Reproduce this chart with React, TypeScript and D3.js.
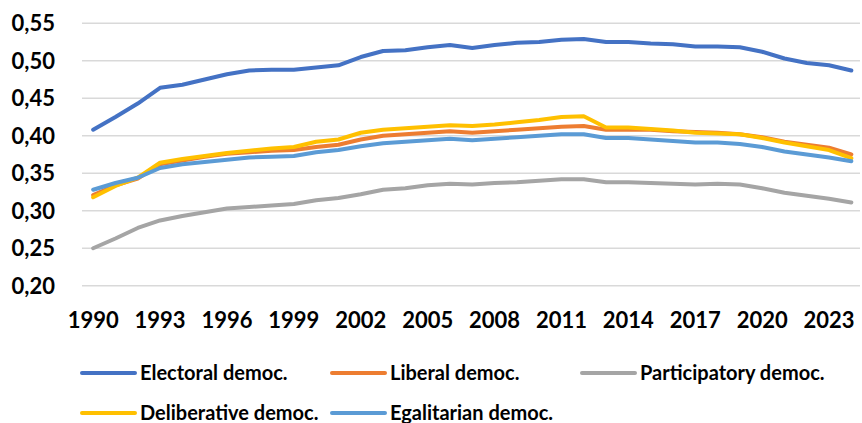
import React from "react";
import * as d3 from "d3";

const years: number[] = d3.range(1990, 2025);

const electoral = [
  0.408, 0.425, 0.443, 0.464, 0.468, 0.475, 0.482, 0.487, 0.488, 0.488,
  0.491, 0.494, 0.505, 0.513, 0.514, 0.518, 0.521, 0.517, 0.521, 0.524,
  0.525, 0.528, 0.529, 0.525, 0.525, 0.523, 0.522, 0.519, 0.519, 0.518,
  0.512, 0.503, 0.497, 0.494, 0.487,
];
const liberal = [
  0.321, 0.334, 0.343, 0.362, 0.367, 0.372, 0.376, 0.378, 0.380, 0.381,
  0.385, 0.388, 0.395, 0.400, 0.402, 0.404, 0.406, 0.404, 0.406, 0.408,
  0.410, 0.412, 0.413, 0.408, 0.408, 0.408, 0.406, 0.405, 0.404, 0.402,
  0.398, 0.392, 0.388, 0.384, 0.375,
];
const participatory = [
  0.250, 0.263, 0.277, 0.287, 0.293, 0.298, 0.303, 0.305, 0.307, 0.309,
  0.314, 0.317, 0.322, 0.328, 0.330, 0.334, 0.336, 0.335, 0.337, 0.338,
  0.340, 0.342, 0.342, 0.338, 0.338, 0.337, 0.336, 0.335, 0.336, 0.335,
  0.330, 0.324, 0.320, 0.316, 0.311,
];
const deliberative = [
  0.318, 0.333, 0.344, 0.364, 0.369, 0.373, 0.377, 0.380, 0.383, 0.385,
  0.392, 0.395, 0.404, 0.408, 0.410, 0.412, 0.414, 0.413, 0.415, 0.418,
  0.421, 0.425, 0.426, 0.411, 0.411, 0.409, 0.407, 0.404, 0.403, 0.402,
  0.397, 0.391, 0.386, 0.381, 0.370,
];
const egalitarian = [
  0.328, 0.337, 0.344, 0.357, 0.362, 0.365, 0.368, 0.371, 0.372, 0.373,
  0.378, 0.381, 0.386, 0.390, 0.392, 0.394, 0.396, 0.394, 0.396, 0.398,
  0.400, 0.402, 0.402, 0.397, 0.397, 0.395, 0.393, 0.391, 0.391, 0.389,
  0.385, 0.379, 0.375, 0.371, 0.366,
];

const seriesNames = [
  "Electoral democ.",
  "Liberal democ.",
  "Participatory democ.",
  "Deliberative democ.",
  "Egalitarian democ.",
];
const seriesColors = ["#4472C4", "#ED7D31", "#A5A5A5", "#FFC000", "#5B9BD5"];
const seriesValues = [electoral, liberal, participatory, deliberative, egalitarian];

const yTicks = [0.2, 0.25, 0.3, 0.35, 0.4, 0.45, 0.5, 0.55];
const xTickYears = d3.range(1990, 2025, 3);

const W = 862;
const H = 423;
const plotLeft = 82;
const plotRight = 862.5;
const plotTop = 23.3;
const plotBottom = 285.7;
const FONT = "Lato, 'Open Sans', sans-serif";

export default function App() {
  const x = d3
    .scaleBand<number>()
    .domain(years)
    .range([plotLeft, plotRight]);
  const cx = (yr: number) => (x(yr) as number) + x.bandwidth() / 2;
  const y = d3.scaleLinear().domain([0.2, 0.55]).range([plotBottom, plotTop]);
  const fmt = (v: number) => d3.format(".2f")(v).replace(".", ",");

  const line = d3
    .line<number>()
    .x((_, i) => cx(years[i]))
    .y((d) => y(d));

  const legendCols = [82, 332, 582];
  const legendRows = [373, 413];

  return (
    <svg
      width={W}
      height={H}
      style={{ position: "absolute", left: 0, top: 0, background: "#fff" }}
      fontFamily={FONT}
    >
      <rect width={W} height={H} fill="#fff" />
      {yTicks.map((t) => (
        <g key={t}>
          <line
            x1={plotLeft}
            x2={860}
            y1={y(t)}
            y2={y(t)}
            stroke="#D9D9D9"
            strokeWidth={1.4}
          />
          <text
            x={55}
            y={y(t)}
            dy="0.36em"
            textAnchor="end"
            fontSize={22}
            fontWeight={700}
            fill="#000"
          >
            {fmt(t)}
          </text>
        </g>
      ))}
      {xTickYears.map((yr) => (
        <text
          key={yr}
          x={cx(yr)}
          y={328}
          textAnchor="middle"
          fontSize={22}
          fontWeight={700}
          fill="#000"
        >
          {yr}
        </text>
      ))}
      {seriesValues.map((vals, i) => (
        <path
          key={seriesNames[i]}
          d={line(vals) || ""}
          fill="none"
          stroke={seriesColors[i]}
          strokeWidth={4}
          strokeLinejoin="round"
          strokeLinecap="round"
        />
      ))}
      {seriesNames.map((name, i) => {
        const lx = legendCols[i % 3];
        const ly = legendRows[Math.floor(i / 3)];
        return (
          <g key={name}>
            <line
              x1={lx}
              x2={lx + 53}
              y1={ly}
              y2={ly}
              stroke={seriesColors[i]}
              strokeWidth={4}
              strokeLinecap="round"
            />
            <text
              x={lx + 58}
              y={ly + 6.5}
              fontSize={20}
              fontWeight={700}
              fill="#000"
            >
              {name}
            </text>
          </g>
        );
      })}
    </svg>
  );
}
